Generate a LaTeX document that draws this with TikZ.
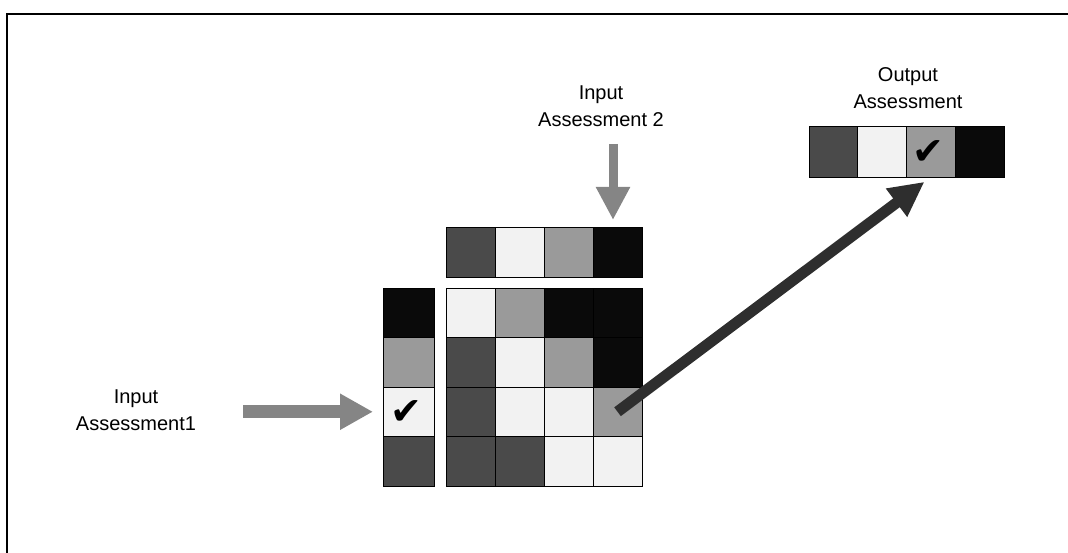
\documentclass[tikz,border=0pt]{standalone}
\usepackage{fontspec}
\setmainfont{Liberation Sans}
\newfontfamily\symfont{DejaVu Sans}
\usetikzlibrary{arrows.meta}
\definecolor{cD}{HTML}{4A4A4A}
\definecolor{cG}{HTML}{9A9A9A}
\definecolor{cW}{HTML}{F2F2F2}
\definecolor{cK}{HTML}{0A0A0A}
\definecolor{cA}{HTML}{858585}
\definecolor{cX}{HTML}{2E2E2E}
\begin{document}
\begin{tikzpicture}[x=1pt,y=-1pt,
  cell/.style={draw=black, line width=0.8pt, minimum width=49pt, minimum height=49.5pt, inner sep=0pt, outer sep=0pt},
  hcell/.style={cell, minimum height=50pt},
  ocell/.style={cell, minimum width=48.75pt, minimum height=51pt},
  lcell/.style={cell, minimum width=51pt},
  lbl/.style={align=center, font=\fontsize{20}{27}\selectfont, inner sep=0pt},
  tick/.style={font=\symfont\fontsize{38}{38}\selectfont, inner sep=0pt},
  inarrow/.style={draw=cA, line width=13pt, -{Triangle[length=33pt,width=34pt]}},
  downarrow/.style={draw=cA, line width=9pt, -{Triangle[length=33pt,width=32pt]}},
  diagarrow/.style={draw=cX, line width=11pt, -{Triangle[length=35pt,width=33pt]}}
]
\useasboundingbox (0,0) rectangle (1068,553);
\draw[line width=1.2pt] (7,553) -- (7,14) -- (1068,14);

% top bar (input assessment 2)
\node[hcell, fill=cD] (tb1) at (470.5,252) {};
\node[hcell, fill=cW] (tb2) at (519.5,252) {};
\node[hcell, fill=cG] (tb3) at (568.5,252) {};
\node[hcell, fill=cK] (tb4) at (617.5,252) {};

% left column (input assessment 1)
\node[lcell, fill=cK] (lc1) at (408.5,312.75) {};
\node[lcell, fill=cG] (lc2) at (408.5,362.25) {};
\node[lcell, fill=cW] (lc3) at (408.5,411.75) {};
\node[lcell, fill=cD] (lc4) at (408.5,461.25) {};
\node[tick] (t1) at ([xshift=-2pt,yshift=-1pt]lc3.center) {✔};

% matrix
\node[cell, fill=cW] (m11) at (470.5,312.75) {};
\node[cell, fill=cG] (m12) at (519.5,312.75) {};
\node[cell, fill=cK] (m13) at (568.5,312.75) {};
\node[cell, fill=cK] (m14) at (617.5,312.75) {};
\node[cell, fill=cD] (m21) at (470.5,362.25) {};
\node[cell, fill=cW] (m22) at (519.5,362.25) {};
\node[cell, fill=cG] (m23) at (568.5,362.25) {};
\node[cell, fill=cK] (m24) at (617.5,362.25) {};
\node[cell, fill=cD] (m31) at (470.5,411.75) {};
\node[cell, fill=cW] (m32) at (519.5,411.75) {};
\node[cell, fill=cW] (m33) at (568.5,411.75) {};
\node[cell, fill=cG] (m34) at (617.5,411.75) {};
\node[cell, fill=cD] (m41) at (470.5,461.25) {};
\node[cell, fill=cD] (m42) at (519.5,461.25) {};
\node[cell, fill=cW] (m43) at (568.5,461.25) {};
\node[cell, fill=cW] (m44) at (617.5,461.25) {};

% output bar
\node[ocell, fill=cD] (out1) at (833.4,151.5) {};
\node[ocell, fill=cW] (out2) at (882.1,151.5) {};
\node[ocell, fill=cG] (out3) at (930.9,151.5) {};
\node[ocell, fill=cK] (out4) at (979.6,151.5) {};
\node[tick] (t2) at ([xshift=-2pt,yshift=-1pt]out3.center) {✔};

% labels
\node[lbl] (in1) at (136,410) {Input\\Assessment1};
\node[lbl] (in2) at (601,106) {Input\\Assessment 2};
\node[lbl] (outl) at (908,88) {Output\\Assessment};

% arrows
\coordinate (a1) at (243,411.75);
\coordinate (a2) at (613,144);
\draw[inarrow, shorten >=10pt] (a1) -- (lc3.west);
\draw[downarrow, shorten >=7pt] (a2) -- (a2 |- tb4.north);
\draw[diagarrow, shorten >=8pt] (m34.center) -- (out3.south);
\end{tikzpicture}
\end{document}
